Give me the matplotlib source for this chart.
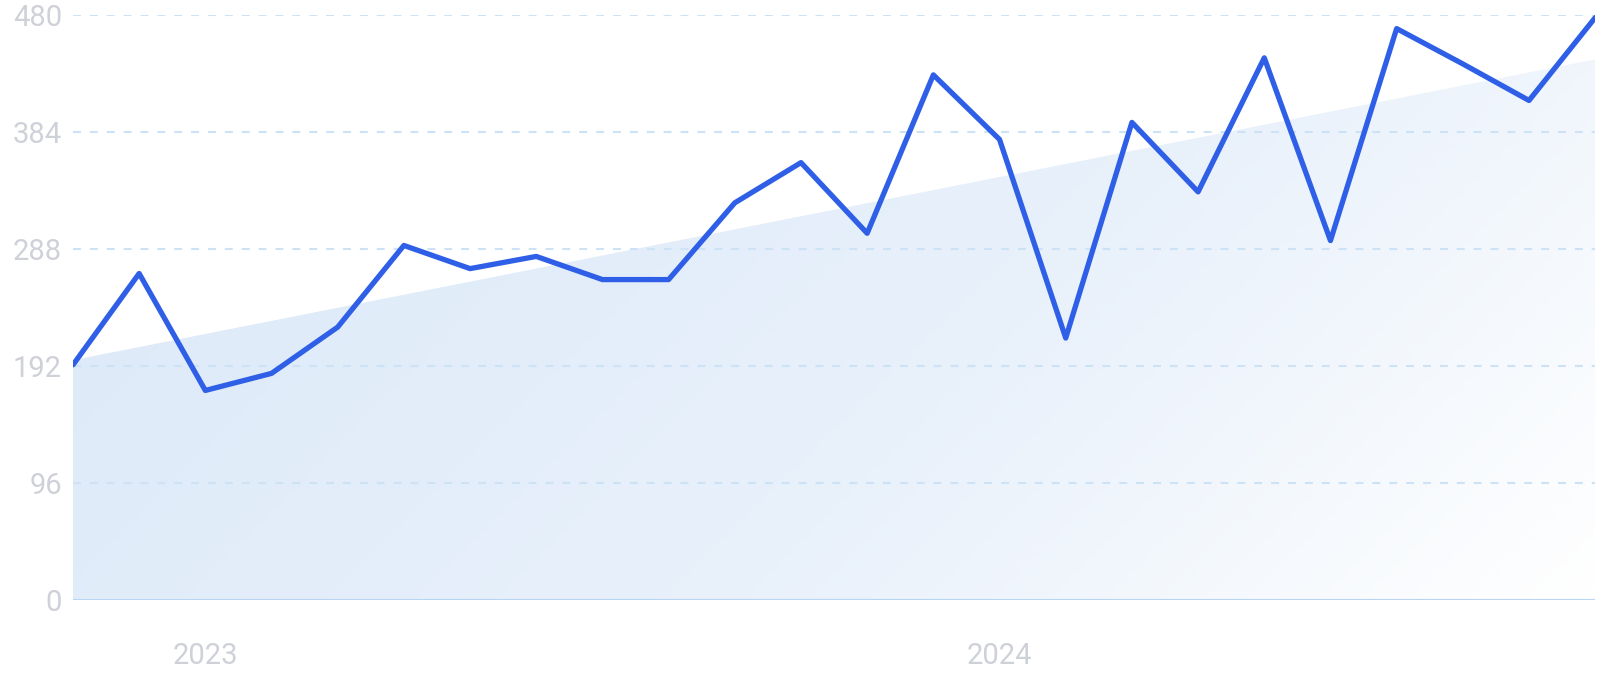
import numpy as np
import matplotlib.pyplot as plt
from matplotlib.patches import Polygon
from matplotlib.colors import LinearSegmentedColormap

months = ["2022-11", "2022-12", "2023-01", "2023-02", "2023-03", "2023-04",
          "2023-05", "2023-06", "2023-07", "2023-08", "2023-09", "2023-10",
          "2023-11", "2023-12", "2024-01", "2024-02", "2024-03", "2024-04",
          "2024-05", "2024-06", "2024-07", "2024-08", "2024-09", "2024-10"]
values = [193, 268, 172, 186, 224, 291, 272, 282, 263, 263, 326, 359,
          301, 431, 378, 215, 392, 335, 445, 295, 469, 440, 410, 478]
y_ticks = [0, 96, 192, 288, 384, 480]
year_ticks = {"2023": "2023-01", "2024": "2024-01"}

x = np.arange(len(values))
slope, icpt = np.polyfit(x, values, 1)
trend = slope * x + icpt

fig = plt.figure(figsize=(16, 6.9), dpi=100)
ax = fig.add_axes([0.0456, 0.1304, 0.9514, 0.8476])
ax.set_xlim(0, len(values) - 1)
ax.set_ylim(0, 480)

# gradient fill under trend line, blue at left fading to white at bottom right
cmap = LinearSegmentedColormap.from_list(
    "g", [(0, "#dae8f8"), (0.6, "#e9f1fb"), (1, "#ffffff")])
gx, gy = np.meshgrid(np.linspace(0, 1, 300), np.linspace(0, 1, 150))
grad = np.clip(0.72 * gx + 0.28 * gy, 0, 1)
img = ax.imshow(grad, extent=[0, len(values) - 1, 0, 480], origin="upper",
                cmap=cmap, vmin=0, vmax=1, aspect="auto", zorder=1)
poly = Polygon(np.column_stack([np.r_[x, x[::-1]], np.r_[trend, np.zeros_like(trend)]]),
               closed=True, facecolor="none", edgecolor="none")
ax.add_patch(poly)
img.set_clip_path(poly)

for t in y_ticks[1:]:
    ax.axhline(t, color="#cde2f5", lw=1.5, ls=(0, (3.8, 4.3)), zorder=2)
ax.axhline(0, color="#b8d6f4", lw=1.5, zorder=2)

ax.plot(x, values, color="#2e5fe6", lw=3.8, solid_joinstyle="round",
        solid_capstyle="round", zorder=4)

for s in ax.spines.values():
    s.set_visible(False)
ax.set_yticks(y_ticks)
ax.set_yticklabels([str(t) for t in y_ticks])
ax.set_xticks([months.index(m) for m in year_ticks.values()])
ax.set_xticklabels(list(year_ticks.keys()))
ax.tick_params(axis="y", length=0, pad=8, labelsize=21, labelcolor="#cfd1d9")
ax.tick_params(axis="x", length=0, pad=30, labelsize=21, labelcolor="#cfd1d9")
for lab in ax.get_xticklabels() + ax.get_yticklabels():
    lab.set_family("Roboto")

fig.savefig("out.png", dpi=100, facecolor="white")
